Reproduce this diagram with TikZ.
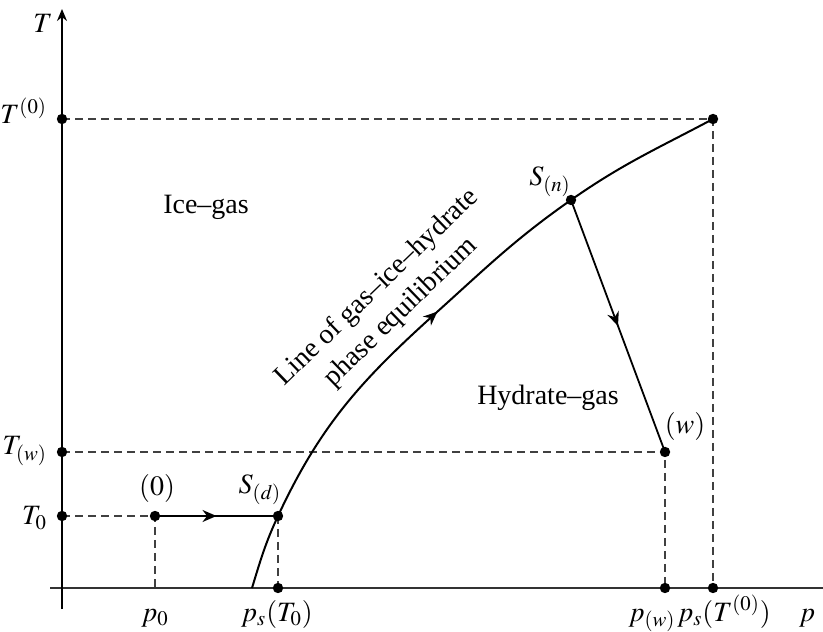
\documentclass[tikz,border=0pt]{standalone}
\usepackage{mathptmx}
\usepackage[no-math]{fontspec}
\setmainfont{Liberation Serif}
\usepackage{tikz}
\usetikzlibrary{arrows.meta}
\usetikzlibrary{decorations.markings}
\tikzset{
    axisline/.style={
        line width=0.8pt,
        black
    },
    % 虚线样式
    dashline/.style={
        line width=0.6pt,
        black!75,
        dash pattern=on 4pt off 2.5pt
    },
    % 中间箭头
    midarrow/.style={
        line width=0.9pt,
        postaction={decorate},
        decoration={markings,
            mark=at position #1 with {\arrow{Stealth[length=7pt, width=6pt]}}}
    },
    midarrow/.default=0.5
}

\begin{document}
\begin{tikzpicture}[x=0.5pt,y=0.5pt,font=\fontsize{14}{17}\selectfont]
	\useasboundingbox (0,0) rectangle (823,631);
	
	\path 
	(62,43) coordinate (o)
	(62,512) coordinate (ttop)
	(62,179) coordinate (tw)
	(62,115) coordinate (tzero)
	(155,115) coordinate (a0)
	(278,115) coordinate (sd)
	(571,431) coordinate (sn)
	(665,179) coordinate (w)
	(713,512) coordinate (top)
	(155,43) coordinate (p0)
	(278,43) coordinate (psd)
	(665,43) coordinate (pw)
	(713,43) coordinate (ptop)
	(252,43) coordinate (c0)
	(437,319) coordinate (cm)
	(50,43) coordinate (xl)
	(823,43) coordinate (xr)
	(62,22) coordinate (yb)
	(62,622) coordinate (yt);
	
	% 坐标轴
	\draw[line width=0.8pt,black!80] (xl) -- (xr);
	\draw[axisline,-{Stealth[length=6pt, width=5pt]}] (yb) -- (yt);
	
	% 虚线
	\draw[dashline] (ttop) -- (top) -- (ptop);
	\draw[dashline] (tw) -- (w) -- (pw);
	\draw[dashline] (tzero) -- (a0) -- (p0);
	\draw[dashline] (sd) -- (psd);
	
	% 相平衡曲线
	\draw[midarrow=0.5,line width=1pt] (c0) to[out=73,in=245] (sd)
	to[out=65,in=222] (cm) to[out=42,in=215] (sn) to[out=35,in=208] (top);
	
	% 过程
	\draw[midarrow] (a0) -- (sd);
	\draw[midarrow] (sn) -- (w);
	
	% 实心点
	\fill[black] 
	(ttop) circle (2.6pt)
	(tw) circle (2.6pt)
	(tzero) circle (2.6pt)
	(a0) circle (2.6pt)
	(sd) circle (2.6pt)
	(sn) circle (2.6pt)
	(w) circle (2.6pt)
	(top) circle (2.6pt)
	(psd) circle (2.6pt)
	(pw) circle (2.6pt)
	(ptop) circle (2.6pt);
	
	% 文字标注
	\node[anchor=base] (lT) at (43,598) {$T$};
	\node[anchor=east] (lttop) at (54,520) {$T^{(0)}$};
	\node[anchor=east] (ltw) at (54,180) {$T_{(w)}$};
	\node[anchor=east] (ltzero) at (54,113) {$T_0$};
	\node (la0) at (157,142) {$(0)$};
	\node (lsd) at (260,141) {$S_{(d)}$};
	\node (lsn) at (550,449) {$S_{(n)}$};
	\node (lw) at (685,204) {$(w)$};
	\node[anchor=base] (lp0) at (155,10) {$p_0$};
	\node[anchor=base] (lpsd) at (277,10) {$p_s(T_0)$};
	\node[anchor=base] (lpw) at (652,10) {$p_{(w)}$};
	\node[anchor=base] (lptop) at (724,10) {$p_s(T^{(0)})$};
	\node[anchor=base] (lp) at (807,10) {$p$};
	
	\node (icegas) at (206,424) {Ice--gas};
	\node (hydgas) at (548,233) {Hydrate--gas};
	\node[rotate=44,align=center,inner sep=1pt] (eqline) at (389,331) {Line of gas--ice--hydrate\\phase equilibrium};
\end{tikzpicture}
\end{document}
